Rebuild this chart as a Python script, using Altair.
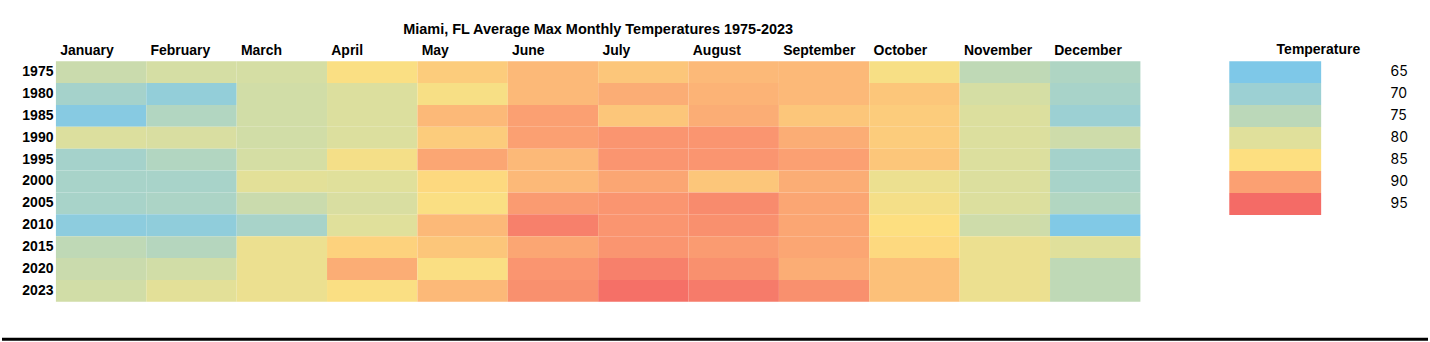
import altair as alt
import pandas as pd

months = ["January", "February", "March", "April", "May", "June", "July",
          "August", "September", "October", "November", "December"]
years = ["1975", "1980", "1985", "1990", "1995", "2000", "2005", "2010", "2015", "2020", "2023"]

t1975 = [77.0, 78.5, 78.5, 84.5, 86.5, 88.0, 87.0, 88.0, 88.0, 84.0, 75.5, 73.0]
t1980 = [71.5, 68.5, 78.0, 79.5, 84.0, 88.0, 89.0, 88.5, 88.0, 87.0, 78.5, 72.0]
t1985 = [66.5, 73.5, 78.0, 79.5, 88.0, 90.0, 87.0, 89.0, 87.0, 86.5, 79.5, 70.0]
t1990 = [79.5, 79.0, 78.0, 79.5, 86.5, 90.0, 91.0, 91.0, 89.0, 86.5, 79.5, 77.5]
t1995 = [71.5, 73.5, 78.5, 83.5, 89.5, 88.0, 91.0, 91.0, 90.0, 87.0, 79.5, 71.5]
t2000 = [72.0, 72.0, 80.5, 80.0, 85.5, 88.0, 89.5, 87.0, 89.0, 82.0, 79.5, 72.0]
t2005 = [72.0, 72.5, 77.0, 79.0, 84.5, 90.5, 91.0, 92.0, 89.5, 83.5, 79.5, 73.5]
t2010 = [67.5, 68.0, 72.0, 80.0, 88.0, 93.0, 91.0, 91.5, 89.5, 85.0, 77.5, 65.5]
t2015 = [75.5, 74.0, 82.0, 86.0, 87.0, 89.5, 91.0, 90.5, 89.5, 85.5, 82.0, 80.0]
t2020 = [77.0, 78.0, 82.0, 89.0, 84.5, 91.0, 93.0, 91.5, 89.0, 87.5, 82.0, 75.5]
t2023 = [78.0, 80.5, 82.0, 84.5, 88.0, 91.5, 94.5, 93.5, 91.5, 87.5, 82.0, 75.5]

rows = [t1975, t1980, t1985, t1990, t1995, t2000, t2005, t2010, t2015, t2020, t2023]

legend_values = [65, 70, 75, 80, 85, 90, 95]
legend_colors = ["#7EC8E8", "#9CD0D3", "#BBD8B9", "#E0E09B", "#FDDF80", "#FBA072", "#F46B66"]

records = []
for y, vals in zip(years, rows):
    for m, v in zip(months, vals):
        records.append({"Year": y, "Month": m, "Temp": v})
df = pd.DataFrame(records)
leg_df = pd.DataFrame({"T": [str(v) for v in legend_values], "V": legend_values})

FONT = "Liberation Sans, Arial, sans-serif"

color_scale = alt.Scale(domain=legend_values, range=legend_colors, interpolate="rgb")

heat = alt.Chart(df).mark_rect().encode(
    x=alt.X("Month:N", sort=months, scale=alt.Scale(paddingInner=0, paddingOuter=0),
            axis=alt.Axis(orient="top", title=None, domain=False, ticks=False,
                          labelAngle=0, labelAlign="left",
                          labelOffset=-41, labelPadding=4, labelFont=FONT,
                          labelFontSize=14, labelFontWeight="bold", labelColor="#000")),
    y=alt.Y("Year:N", sort=years, scale=alt.Scale(paddingInner=0, paddingOuter=0),
            axis=alt.Axis(title=None, domain=False, ticks=False, labelPadding=3,
                          labelFont=FONT, labelFontSize=14, labelFontWeight="bold",
                          labelColor="#000")),
    color=alt.Color("Temp:Q", scale=color_scale, legend=None),
)

bottom_line = alt.Chart(pd.DataFrame({"a": [0]})).mark_rule(color="#000", strokeWidth=3).encode(
    x=alt.value(-54), x2=alt.value(1374), y=alt.value(278.5)
)

left = alt.layer(heat, bottom_line).properties(
    width=1086, height=241,
    title=alt.TitleParams("Miami, FL Average Max Monthly Temperatures 1975-2023",
                          font=FONT, fontSize=14.5, fontWeight="bold", color="#000",
                          anchor="middle", offset=6),
)

legend = alt.Chart(leg_df).mark_rect().encode(
    y=alt.Y("T:N", sort=[str(v) for v in legend_values],
            scale=alt.Scale(paddingInner=0, paddingOuter=0),
            axis=alt.Axis(orient="right", title=None, domain=False, ticks=False,
                          labelPadding=69, labelFont="Inter", labelFontSize=14,
                          labelColor="#000")),
    color=alt.Color("V:Q", scale=alt.Scale(domain=legend_values, range=legend_colors,
                                           interpolate="rgb"), legend=None),
).properties(
    width=92, height=154,
    title=alt.TitleParams("Temperature", font=FONT, fontSize=14, fontWeight="bold",
                          color="#000", anchor="middle", frame="bounds", offset=4),
)

chart = alt.hconcat(left, legend, spacing=89, bounds="flush").resolve_scale(
    color="independent"
).properties(
    padding={"left": 0, "top": 21, "right": 0, "bottom": 0},
    background="white",
).configure_view(stroke=None).configure_concat(spacing=89)

chart.save("out.html", embed_options={"renderer": "svg", "actions": False})
